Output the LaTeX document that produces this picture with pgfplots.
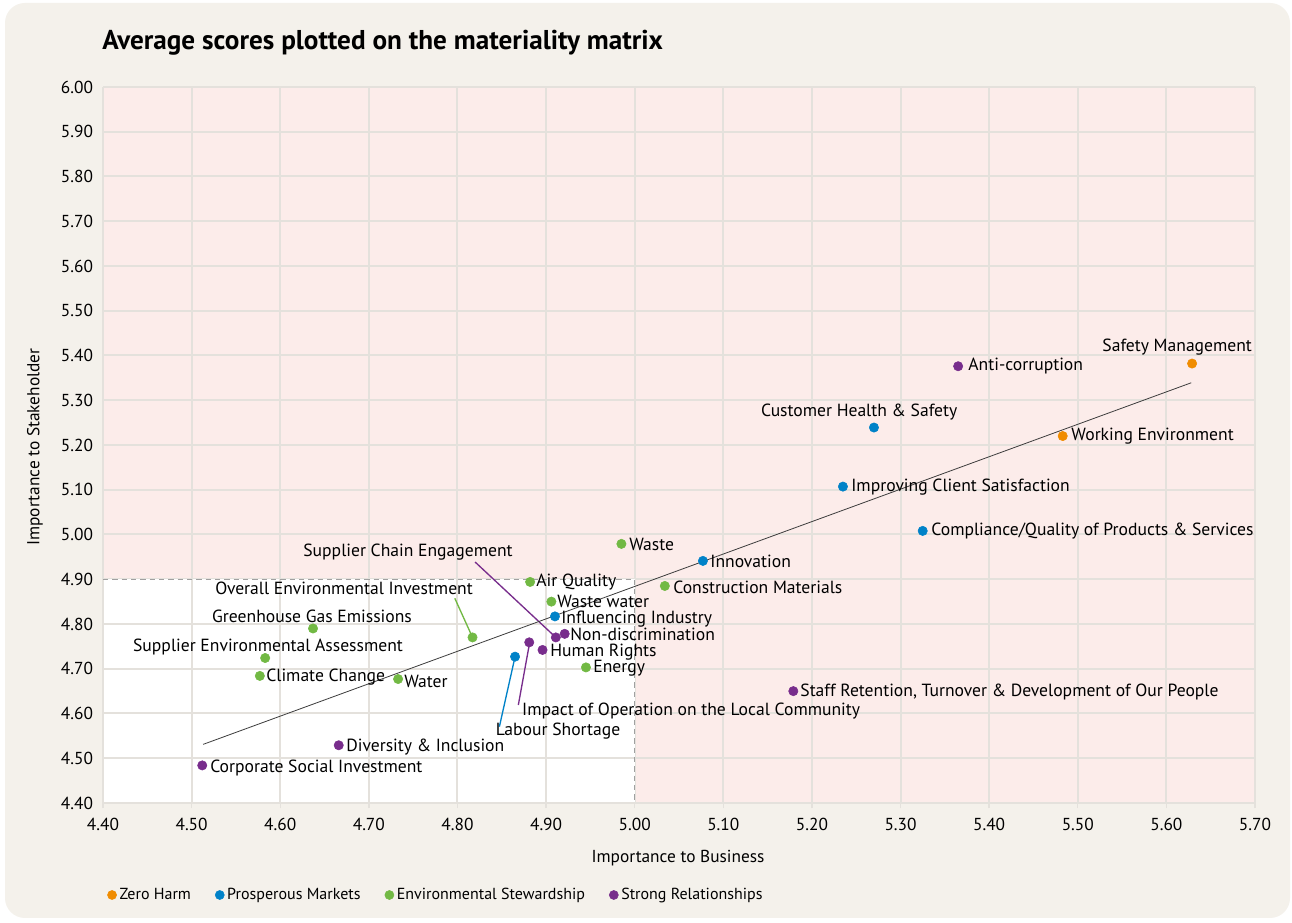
\documentclass[border=0pt]{standalone}
\usepackage{pgfplots}
\pgfplotsset{compat=1.18}
\usepackage{fontspec}
\setmainfont{PT Sans}
\definecolor{bgc}{RGB}{244,241,235}
\definecolor{pinkc}{RGB}{252,236,234}
\definecolor{gridc}{RGB}{228,225,220}
\definecolor{dashc}{RGB}{160,160,160}
\definecolor{orangec}{RGB}{240,140,0}
\definecolor{bluec}{RGB}{0,130,200}
\definecolor{greenc}{RGB}{114,185,68}
\definecolor{purplec}{RGB}{120,45,140}
\definecolor{trendc}{RGB}{60,60,60}
\begin{document}
\begin{tikzpicture}
\path (0,0) rectangle (969pt,692.25pt);
\fill[white] (0,0) rectangle (969pt,692.25pt);
\fill[bgc, rounded corners=15pt] (3.75pt,3.75pt) rectangle (967.5pt,690pt);
\node[anchor=west, inner sep=0pt, font=\fontsize{20.4}{24}\selectfont\bfseries] at (76.5pt,660.5pt) {Average scores plotted on the materiality matrix};
\node[inner sep=0pt, font=\fontsize{13}{15}\selectfont] at (508.5pt,48.75pt) {Importance to Business};
\node[inner sep=0pt, rotate=90, font=\fontsize{13}{15}\selectfont] at (26.25pt,357pt) {Importance to Stakeholder};
\begin{axis}[
  at={(77.25pt,90pt)}, anchor=south west,
  scale only axis, width=864pt, height=537pt,
  xmin=4.4, xmax=5.7, ymin=4.4, ymax=6.0,
  xtick distance=0.1, ytick distance=0.1,
  axis background/.style={fill=pinkc},
  grid=major, major grid style={gridc, line width=1.5pt},
  axis lines=left, axis line style={gridc, line width=1.5pt, -},
  xtick style={gridc, line width=1pt}, ytick style={draw=none},
  tick align=outside, major tick length=4pt,
  /pgf/number format/fixed, /pgf/number format/fixed zerofill, /pgf/number format/precision=2,
  /pgf/number format/assume math mode=true,
  ticklabel style={font=\fontsize{13}{15}\selectfont, text=black},
  xticklabel style={yshift=-4pt},
  clip=false,
  legend columns=4,
  legend style={at={(0,-0.1285)}, anchor=west, draw=none, fill=none, font=\fontsize{12}{14}\selectfont,
    /tikz/every even column/.append style={column sep=16pt}},
  legend cell align=left,
  legend image code/.code={\fill[#1] (0pt,0pt) circle (3.4pt);},
  every axis plot/.append style={only marks, mark=*, mark size=3.5pt},
]
\fill[white] (axis cs:4.4,4.4) rectangle (axis cs:5.0,4.9);
\pgfplotsinvokeforeach{4.4,4.5,4.6,4.7,4.8,4.9}{
  \draw[gridc, line width=1.5pt] (axis cs:#1,4.4) -- (axis cs:#1,4.9);
}
\pgfplotsinvokeforeach{4.4,4.5,4.6,4.7,4.8}{
  \draw[gridc, line width=1.5pt] (axis cs:4.4,#1) -- (axis cs:5.0,#1);
}
\draw[dashc, dash pattern=on 4pt off 3pt, line width=1pt] (axis cs:4.4,4.9) -- (axis cs:5.0,4.9) -- (axis cs:5.0,4.4);
% leader lines
\draw[purplec, line width=1pt] (axis cs:4.8199,4.9385) -- (axis cs:4.911,4.770);
\draw[greenc, line width=1pt] (axis cs:4.7970,4.8574) -- (axis cs:4.817,4.770);
\draw[purplec, line width=1pt] (axis cs:4.8687,4.6190) -- (axis cs:4.8815,4.759);
\draw[bluec, line width=1pt] (axis cs:4.8473,4.5705) -- (axis cs:4.865,4.727);
% trend line
\addplot[forget plot, no marks, sharp plot, trendc, line width=0.6pt] coordinates {(4.513,4.531) (5.628,5.339)};
% series
\addplot[orangec] coordinates {(5.629,5.382) (5.483,5.220)};
\addlegendentry{Zero Harm}
\addplot[bluec] coordinates {(5.270,5.239) (5.235,5.107) (5.325,5.008) (5.077,4.941) (4.910,4.817) (4.865,4.727)};
\addlegendentry{Prosperous Markets}
\addplot[greenc] coordinates {(4.985,4.979) (4.882,4.894) (5.034,4.885) (4.906,4.850) (4.817,4.770) (4.637,4.790) (4.583,4.724) (4.577,4.684) (4.733,4.677) (4.945,4.703)};
\addlegendentry{Environmental Stewardship}
\addplot[purplec] coordinates {(5.365,5.376) (4.921,4.778) (4.911,4.770) (4.881,4.759) (4.896,4.742) (5.179,4.650) (4.666,4.529) (4.512,4.484)};
\addlegendentry{Strong Relationships}
% labels
\begin{scope}[every node/.style={inner sep=0pt, font=\fontsize{13.2}{15}\selectfont}]
\node[anchor=west] at (axis cs:5.3763,5.3765) {Anti-corruption};
\node[anchor=west] at (axis cs:5.4926,5.2201) {Working Environment};
\node[anchor=west] at (axis cs:5.2442,5.1061) {Improving Client Satisfaction};
\node[anchor=west] at (axis cs:5.3345,5.0078) {Compliance/Quality of Products \& Services};
\node[anchor=west] at (axis cs:4.9937,4.9788) {Waste};
\node[anchor=west] at (axis cs:5.0851,4.9408) {Innovation};
\node[anchor=west] at (axis cs:4.8887,4.8939) {Air Quality};
\node[anchor=west] at (axis cs:5.0433,4.8827) {Construction Materials};
\node[anchor=west] at (axis cs:4.9124,4.8515) {Waste water};
\node[anchor=west] at (axis cs:4.9169,4.8114) {Influencing Industry};
\node[anchor=west] at (axis cs:4.9271,4.7774) {Non-discrimination};
\node[anchor=west] at (axis cs:4.9045,4.7377) {Human Rights};
\node[anchor=west] at (axis cs:4.9530,4.7017) {Energy};
\node[anchor=west] at (axis cs:4.5840,4.6816) {Climate Change};
\node[anchor=west] at (axis cs:4.7397,4.6726) {Water};
\node[anchor=west] at (axis cs:5.1867,4.6480) {Staff Retention, Turnover \& Development of Our People};
\node[anchor=west] at (axis cs:4.6743,4.5251) {Diversity \& Inclusion};
\node[anchor=west] at (axis cs:4.5208,4.4782) {Corporate Social Investment};
\node at (axis cs:5.6122,5.4190) {Safety Management};
\node at (axis cs:5.2533,5.2737) {Customer Health \& Safety};
\node at (axis cs:4.7442,4.9609) {Supplier Chain Engagement};
\node at (axis cs:4.6720,4.8804) {Overall Environmental Investment};
\node at (axis cs:4.6359,4.8179) {Greenhouse Gas Emissions};
\node at (axis cs:4.5862,4.7486) {Supplier Environmental Assessment};
\node at (axis cs:5.0637,4.6056) {Impact of Operation on the Local Community};
\node at (axis cs:4.9135,4.5609) {Labour Shortage};
\end{scope}
\end{axis}
\end{tikzpicture}
\end{document}
